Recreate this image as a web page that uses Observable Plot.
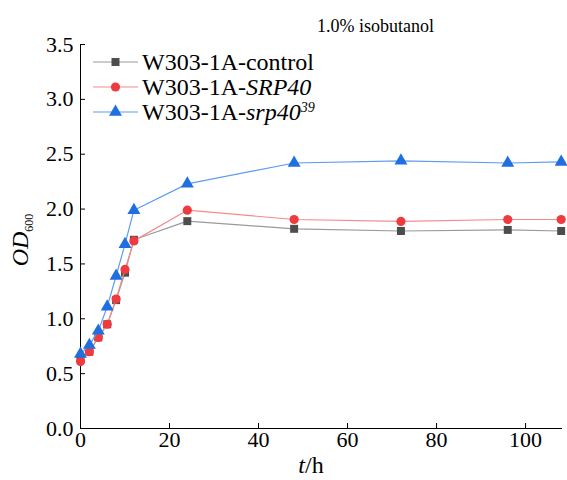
<!DOCTYPE html>
<html><head><meta charset="utf-8">
<script src="https://cdn.jsdelivr.net/npm/d3@7"></script>
<script src="https://cdn.jsdelivr.net/npm/@observablehq/plot@0.6"></script>
<style>
body{margin:0;background:#fff}
#chart{position:relative;width:567px;height:480px}
#chart svg, #chart svg text, #chart svg tspan{font-family:'Liberation Serif','Times New Roman',serif !important}
</style>
</head><body><div id="chart"></div>
<script>
const times = [0, 2, 4, 6, 8, 10, 12, 24, 48, 72, 96, 108];
const control = [0.64, 0.70, 0.83, 0.95, 1.17, 1.42, 1.72, 1.89, 1.82, 1.80, 1.81, 1.80];
const srp40 = [0.61, 0.70, 0.83, 0.95, 1.18, 1.45, 1.71, 1.99, 1.905, 1.887, 1.905, 1.905];
const srp40mut = [0.68, 0.76, 0.89, 1.11, 1.39, 1.68, 1.99, 2.23, 2.42, 2.44, 2.42, 2.43];
const seriesNames = ["W303-1A-control", "W303-1A-SRP40", "W303-1A-srp40^39"];
const xTicks = [0, 20, 40, 60, 80, 100];
const yTicks = [0, 0.5, 1, 1.5, 2, 2.5, 3, 3.5];
const title = "1.0% isobutanol";

const styles = [
  {line: "#9a9a9a", fill: "#4d4d4d", symbol: "square", r: 4.5},
  {line: "#f28c8c", fill: "#ef3b40", symbol: "circle", r: 4.6},
  {line: "#5f9cef", fill: "#1f6fe0", symbol: "triangle", r: 4.8}
];
const values = [control, srp40, srp40mut];
const rows = values.map((vals, i) => times.map((t, j) => ({series: seriesNames[i], t, v: vals[j]})));

const W = 567, H = 480, mL = 80, mR = 5, mT = 44, mB = 52;
const fw = W - mL - mR, fh = H - mT - mB;
const serif = "'Liberation Serif', 'Times New Roman', serif";

const seriesMarks = rows.flatMap((data, i) => [
  Plot.line(data, {x: "t", y: "v", stroke: styles[i].line, strokeWidth: 1.2}),
  Plot.dot(data, {x: "t", y: "v", symbol: styles[i].symbol, r: styles[i].r, fill: styles[i].fill, stroke: "none"})
]);

const chart = Plot.plot({
  width: W, height: H,
  marginLeft: mL, marginRight: mR, marginTop: mT, marginBottom: mB,
  x: {domain: [0, 108.3]},
  y: {domain: [0, 3.5]},
  style: {fontFamily: serif, fontSize: "22px", color: "#000", background: "#fff", overflow: "visible"},
  marks: [
    Plot.axisX({ticks: xTicks, tickSize: 0, tickPadding: 3, label: null, fontSize: 22, fontVariant: "normal"}),
    Plot.axisY({ticks: yTicks, tickSize: 0, tickPadding: 7, tickFormat: d3.format(".1f"), label: null, fontSize: 22, fontVariant: "normal"}),
    Plot.tickX(xTicks, {x: d => d, insetTop: fh - 5, stroke: "#000"}),
    Plot.tickY(yTicks, {y: d => d, insetRight: fw - 5, stroke: "#000"}),
    Plot.ruleX([0], {stroke: "#000"}),
    Plot.ruleY([0], {stroke: "#000"}),
    ...seriesMarks,
    Plot.text([title], {frameAnchor: "top", dx: 54, dy: -13, lineAnchor: "bottom", fontSize: 18})
  ]
});
document.getElementById("chart").appendChild(chart);

const svg = d3.select(chart);
// axis labels with italic parts
const yl = svg.append("text").attr("transform", "translate(28,240) rotate(-90)")
  .style("text-anchor", "middle").style("font-size", "24px").attr("fill", "#000");
yl.append("tspan").style("font-style", "italic").text("OD");
yl.append("tspan").style("font-size", "12px").attr("dy", 5).text("600");

const xl = svg.append("text").attr("x", 311).attr("y", 473)
  .style("text-anchor", "middle").style("font-size", "24px").attr("fill", "#000");
xl.append("tspan").style("font-style", "italic").text("t");
xl.append("tspan").text("/h");

// legend
const leg = svg.append("g").style("font-size", "24px").style("text-anchor", "start");
seriesNames.forEach((name, i) => {
  const cy = 62 + i * 25;
  const g = leg.append("g").attr("transform", `translate(0,${cy})`);
  g.append("line").attr("x1", 93).attr("x2", 138).attr("y1", 0).attr("y2", 0)
    .attr("stroke", styles[i].line).attr("stroke-width", 1.2);
  const sym = {square: d3.symbolSquare, circle: d3.symbolCircle, triangle: d3.symbolTriangle}[styles[i].symbol];
  g.append("path").attr("transform", "translate(115.5,0)")
    .attr("d", d3.symbol(sym, Math.PI * styles[i].r * styles[i].r)()).attr("fill", styles[i].fill);
  const t = g.append("text").attr("x", 142).attr("y", 8).attr("fill", "#000").style("text-anchor", "start");
  const m = name.match(/^(W303-1A-)(.*?)(?:\^(.*))?$/);
  if (i === 0) {
    t.text(name);
  } else {
    t.append("tspan").text(m[1]);
    t.append("tspan").style("font-style", "italic").text(m[2]);
    if (m[3]) t.append("tspan").style("font-style", "italic").style("font-size", "14px").attr("dy", -8).text(m[3]);
  }
});
svg.selectAll("text, tspan").style("font-family", serif).style("font-variant", "normal");
</script>
</body></html>
